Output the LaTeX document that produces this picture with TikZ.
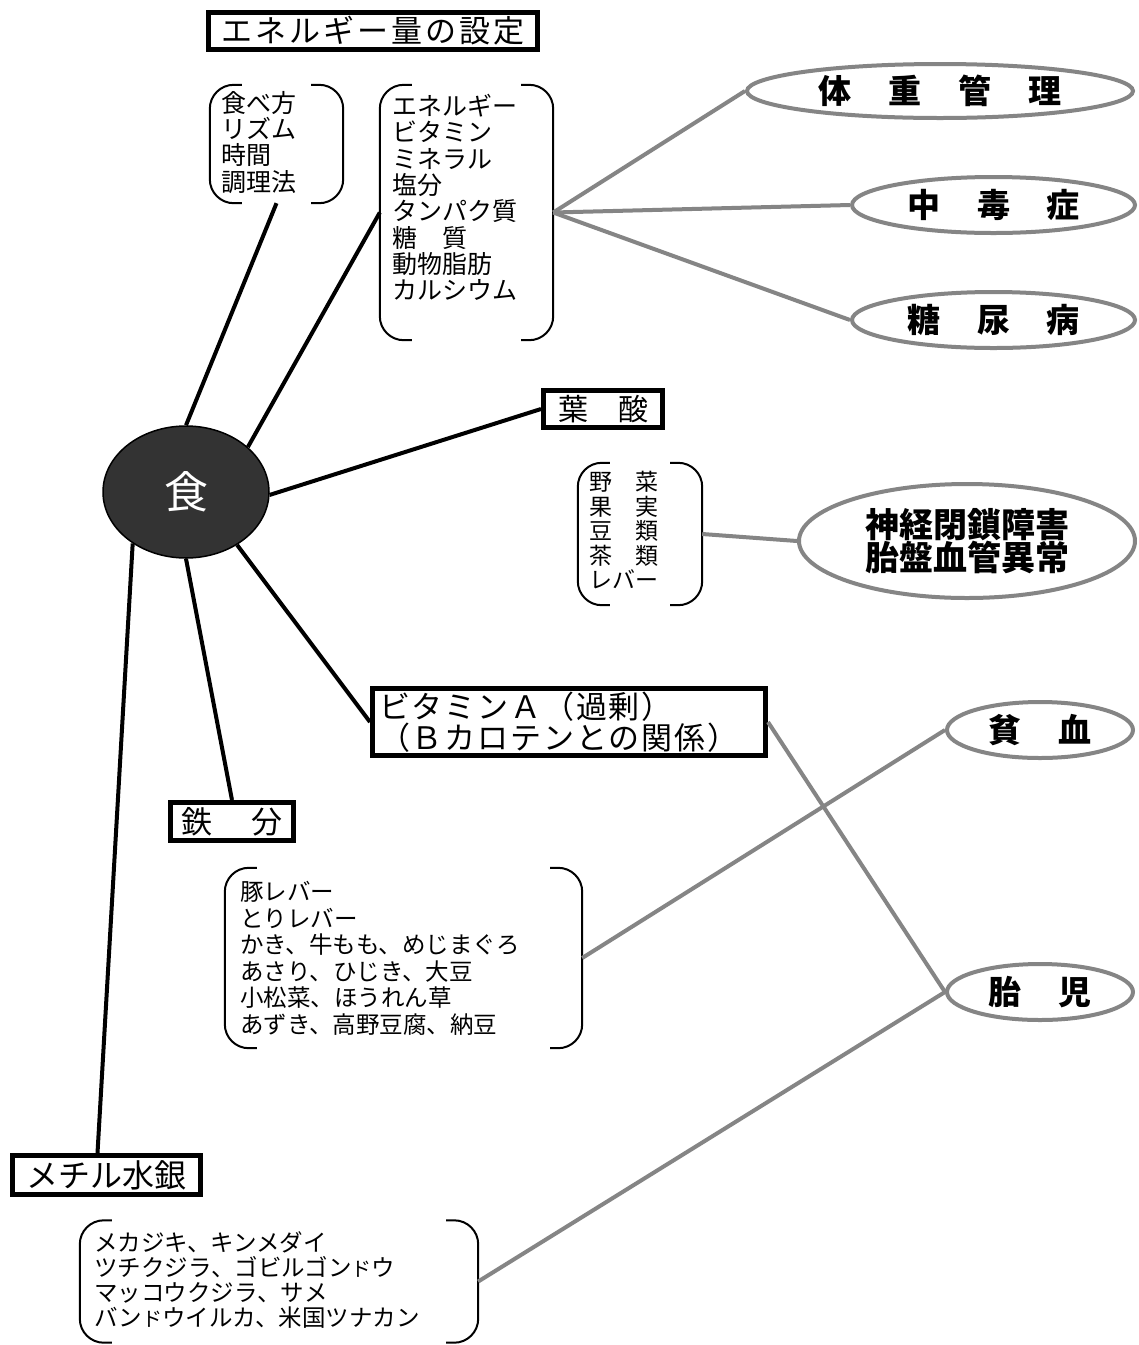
\documentclass[tikz,border=0pt]{standalone}
\usepackage{fontspec}
\setmainfont{Noto Sans CJK JP}
\usetikzlibrary{shapes.geometric}
\definecolor{linegray}{HTML}{858585}
\definecolor{circfill}{HTML}{333333}
\newcommand{\gp}{\hspace{37pt}}
\newcommand{\smalldo}{{\fontsize{20}{20}\selectfont ド}}
\newcommand{\parenbox}[1]{%
  \draw[brk] ([xshift=32pt]#1.north west) -- (#1.north west) -- (#1.south west) -- ([xshift=32pt]#1.south west);
  \draw[brk] ([xshift=-32pt]#1.north east) -- (#1.north east) -- (#1.south east) -- ([xshift=-32pt]#1.south east);}
\begin{document}
\begin{tikzpicture}[x=1pt,y=-1pt,
  blk/.style={draw=black, line width=4pt},
  gry/.style={draw=linegray, line width=4pt},
  box/.style={rectangle, draw=black, line width=5pt, fill=white, inner sep=0pt},
  oval/.style={ellipse, draw=linegray, line width=4pt, fill=white, inner sep=0pt, font=\fontsize{33}{33}\selectfont\bfseries},
  brkarea/.style={rectangle, inner sep=0pt},
  brk/.style={line width=2pt, rounded corners=24pt},
  list/.style={anchor=north west, inner sep=0pt, align=left},
]
\useasboundingbox[fill=white] (0,0) rectangle (1139,1345);

% central node
\node[ellipse, draw=black, line width=1.5pt, fill=circfill, minimum width=166pt, minimum height=132pt, inner sep=0pt,
      text=white, font=\fontsize{44}{44}\selectfont] (food) at (186,492) {食};

% boxed headings
\node[box, minimum width=329pt, minimum height=37pt, font=\fontsize{31}{31}\selectfont\addfontfeature{LetterSpace=10}] (title) at (373,31) {エネルギー量の設定};
\node[box, minimum width=119pt, minimum height=37pt, font=\fontsize{30}{30}\selectfont] (folic) at (603,409) {葉　酸};
\node[box, minimum width=393pt, minimum height=67pt, text width=380pt, align=left, inner xsep=6pt, font=\fontsize{31}{31}\selectfont\addfontfeature{LetterSpace=6}] (vita) at (569,722) {ビタミンＡ（過剰）\\（Ｂカロテンとの関係）};
\node[box, minimum width=123pt, minimum height=38pt, font=\fontsize{31}{31}\selectfont] (iron) at (232,821.5) {鉄\hspace{40pt}分};
\node[box, minimum width=188pt, minimum height=39pt, font=\fontsize{32}{32}\selectfont] (merc) at (106.5,1175) {メチル水銀};

% bracketed lists
\node[brkarea, minimum width=133pt, minimum height=118pt] (b1) at (276.5,144) {};
\parenbox{b1}
\node[list, font=\fontsize{25}{26.3}\selectfont] (b1t) at (221,91) {食べ方\\リズム\\時間\\調理法};

\node[brkarea, minimum width=173pt, minimum height=255pt] (b2) at (466.5,212.5) {};
\parenbox{b2}
\node[list, font=\fontsize{25}{26.3}\selectfont] (b2t) at (392,94) {エネルギー\\ビタミン\\ミネラル\\塩分\\タンパク質\\糖　質\\動物脂肪\\カルシウム};

\node[brkarea, minimum width=124pt, minimum height=142pt] (fb) at (640,534) {};
\parenbox{fb}
\node[list, font=\fontsize{23}{24.5}\selectfont] (fbt) at (589,471) {野　菜\\果　実\\豆　類\\茶　類\\レバー};

\node[brkarea, minimum width=357pt, minimum height=180pt] (ib) at (403.5,958) {};
\parenbox{ib}
\node[list, font=\fontsize{23.5}{26.6}\selectfont] (ibt) at (240,881) {豚レバー\\とりレバー\\かき、牛もも、めじまぐろ\\あさり、ひじき、大豆\\小松菜、ほうれん草\\あずき、高野豆腐、納豆};

\node[brkarea, minimum width=398pt, minimum height=122pt] (mb) at (279,1281.5) {};
\parenbox{mb}
\node[list, font=\fontsize{23.5}{25}\selectfont] (mbt) at (94,1231) {メカジキ、キンメダイ\\ツチクジラ、ゴビルゴン\smalldo ウ\\マッコウクジラ、サメ\\バン\smalldo ウイルカ、米国ツナカン};

% outcome ellipses
\node[oval, minimum width=386pt, minimum height=54pt] (weight) at (940,91) {体\gp 重\gp 管\gp 理};
\node[oval, minimum width=283pt, minimum height=56pt] (poison) at (993.5,205) {中\gp 毒\gp 症};
\node[oval, minimum width=283pt, minimum height=56pt] (diab) at (993.5,320) {糖\gp 尿\gp 病};
\node[oval, minimum width=336pt, minimum height=114pt, align=center, font=\fontsize{34}{31}\selectfont\bfseries] (neural) at (967,541) {神経閉鎖障害\\胎盤血管異常};
\node[oval, minimum width=186pt, minimum height=56pt] (anemia) at (1040,730) {貧\gp 血};
\node[oval, minimum width=186pt, minimum height=56pt] (fetus) at (1040,992) {胎\gp 児};

% black connectors from the centre
\draw[blk] (food.90) -- (b1.south);
\draw[blk] (food.36) -- (b2.west);
\draw[blk] (food.-2) -- (folic.west);
\draw[blk] (food.-46) -- (vita.west);
\draw[blk] (food.-90) -- (iron.north);
\draw[blk] (food.-136) -- ([xshift=-9pt]merc.north);

% gray connectors
\draw[gry] (b2.east) -- (weight.west);
\draw[gry] (b2.east) -- (poison.west);
\draw[gry] (b2.east) -- (diab.west);
\draw[gry] (fb.east) -- (neural.west);
\draw[gry] (ib.east) -- (anemia.west);
\draw[gry] (vita.east) -- (fetus.west);
\draw[gry] (mb.east) -- (fetus.west);
\end{tikzpicture}
\end{document}
